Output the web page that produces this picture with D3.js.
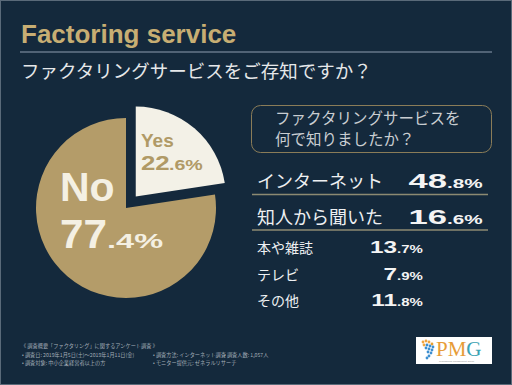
<!DOCTYPE html>
<html>
<head>
<meta charset="utf-8">
<script src="https://cdn.jsdelivr.net/npm/d3@7"></script>
<style>
body { margin: 0; background: #14293c; }
svg { display: block; }
</style>
</head>
<body>
<svg width="512" height="385"></svg>
<script>
// data
var answers = ["Yes", "No"];
var answerShares = [22.6, 77.4];
var sources = ["インターネット", "知人から聞いた", "本や雑誌", "テレビ", "その他"];
var sourceShares = [48.8, 16.6, 13.7, 7.9, 11.8];
var footerCol1 = ["• 調査日: 2019年1月5日(土)～2019年1月11日(金)", "• 調査対象: 中小企業経営者以上の方"];
var footerCol2 = ["• 調査方法: インターネット調査", "• モニター提供元: ゼネラルリサーチ"];
var footerCol3 = ["• 調査人数: 1,057人"];

var jp = "'Noto Sans CJK JP', sans-serif",
	latin = "'Liberation Sans', Arial, sans-serif",
	gold = "#b49c69",
	cream = "#f3f1e7";

var svg = d3.select("svg"),
	width = +svg.attr("width"),
	height = +svg.attr("height");

svg.append("rect")
	.attr("x", 0.5).attr("y", 0.5)
	.attr("width", width - 1).attr("height", height - 1)
	.attr("fill", "#14293c")
	.attr("stroke", "#5a6a79");

// title
svg.append("text")
	.attr("x", 21).attr("y", 43)
	.attr("font-family", latin).attr("font-weight", "bold").attr("font-size", 26)
	.attr("fill", "#c7ae73")
	.text("Factoring service");

svg.append("line")
	.attr("x1", 20).attr("x2", 492).attr("y1", 52).attr("y2", 52)
	.attr("stroke", "#8d9db0").attr("stroke-width", 1.2);

svg.append("text")
	.attr("x", 21).attr("y", 78)
	.attr("font-family", jp).attr("font-size", 18.5)
	.attr("fill", "#e6e8ea")
	.text("ファクタリングサービスをご存知ですか？");

// split 77.4 -> "77", ".4%"
function splitPct(v) {
	var s = v.toFixed(1).split(".");
	return [s[0], "." + s[1] + "%"];
}

// one piece of text, stretched horizontally
function piece(g, x, y, str, size, sx, anchor, color, weight) {
	g.append("text")
		.attr("transform", "translate(" + x + "," + y + ") scale(" + sx + ",1)")
		.attr("text-anchor", anchor || "start")
		.attr("font-family", latin)
		.attr("font-weight", weight || "bold")
		.attr("font-size", size)
		.attr("fill", color)
		.text(str);
}

// pie
var cx = 126, cy = 208, radius = 90;
var pg = svg.append("g").attr("transform", "translate(" + cx + "," + cy + ")");

var pie = d3.pie().sort(null).value(function(d) { return d; });
var arc = d3.arc().innerRadius(0).outerRadius(radius);
var slices = pie(answerShares);

pg.selectAll(".slice")
	.data(slices)
	.enter().append("path")
	.attr("class", "slice")
	.attr("d", arc)
	.attr("fill", function(d, i) { return i == 0 ? cream : gold; })
	.attr("transform", function(d, i) {
		if (i != 0) return null;
		var a = (d.startAngle + d.endAngle) / 2;
		return "translate(" + (Math.sin(a) * 15) + "," + (-Math.cos(a) * 15) + ")";
	});

// No label
var noParts = splitPct(answerShares[1]);
piece(pg, -66, -7, answers[1], 41, 1, "start", "#f4f0e3");
piece(pg, -66, 40, noParts[0], 41, 1.03, "start", "#f4f0e3");
piece(pg, -19, 40, noParts[1], 21, 1.55, "start", "#f4f0e3");

// Yes label
var yesParts = splitPct(answerShares[0]);
piece(pg, 15, -61, answers[0], 19, 1, "start", "#b09a66");
piece(pg, 15, -38, yesParts[0], 21, 1.23, "start", "#b09a66");
piece(pg, 43, -38, yesParts[1], 14, 1.4, "start", "#b09a66");

// right panel
svg.append("rect")
	.attr("x", 251.5).attr("y", 105.5)
	.attr("width", 240).attr("height", 47)
	.attr("rx", 9)
	.attr("fill", "none")
	.attr("stroke", "#8a7c58");

svg.append("text")
	.attr("font-family", jp).attr("font-size", 15.5).attr("fill", "#c9cdd1")
	.selectAll("tspan")
	.data(["ファクタリングサービスを", "何で知りましたか？"])
	.enter().append("tspan")
	.attr("x", 275)
	.attr("y", function(d, i) { return 124 + i * 21; })
	.text(function(d) { return d; });

function rowY(i) { return i < 2 ? 188 + i * 35.5 : 253 + (i - 2) * 26.5; }

var rows = svg.append("g");
sources.forEach(function(name, i) {
	var big = i < 2,
		y = rowY(i),
		parts = splitPct(sourceShares[i]);
	rows.append("text")
		.attr("x", 257).attr("y", y)
		.attr("font-family", jp)
		.attr("font-size", big ? 18 : 14)
		.attr("fill", "#eef0f2")
		.text(name);
	if (big) {
		piece(rows, 447, y, parts[0], 21, 1.65, "end", "#f4f4f4");
		piece(rows, 447, y, parts[1], 12, 1.72, "start", "#f4f4f4");
		rows.append("line")
			.attr("x1", 252).attr("x2", 488)
			.attr("y1", y + 6.5).attr("y2", y + 6.5)
			.attr("stroke", "#8c8a72").attr("stroke-width", 1.3);
	} else {
		piece(rows, 397, y, parts[0], 17, 1.43, "end", "#f4f4f4");
		piece(rows, 397, y, parts[1], 10, 1.5, "start", "#f4f4f4");
	}
});

// footer
var foot = svg.append("g")
	.attr("font-family", jp).attr("font-size", 5.2).attr("fill", "#a3adb7");
foot.append("text").attr("x", 21).attr("y", 347.5)
	.text("《 調査概要「ファクタリング」に関するアンケート調査 》");
[[footerCol1, 22], [footerCol2, 153], [footerCol3, 224]].forEach(function(c) {
	c[0].forEach(function(t, i) {
		foot.append("text").attr("x", c[1]).attr("y", 356.5 + i * 8.7).text(t);
	});
});

// logo
var logo = svg.append("g").attr("transform", "translate(416,337)");
logo.append("rect").attr("width", 76).attr("height", 27).attr("fill", "#ffffff");
var dots = [[7,5,"#f0a540"],[10,4,"#f0a540"],[13,5,"#f0a540"],[16,7,"#e8a030"],
	[8,8,"#f0a540"],[11,8,"#3d8fd0"],[14,9,"#3d8fd0"],[17,10,"#3d8fd0"],
	[10,11,"#3d8fd0"],[13,12,"#3d8fd0"],[16,13,"#3d8fd0"],[12,15,"#3d8fd0"],
	[15,16,"#3d8fd0"],[13,19,"#3d8fd0"],[11,21,"#3d8fd0"]];
logo.selectAll("circle").data(dots).enter().append("circle")
	.attr("cx", function(d) { return d[0]; })
	.attr("cy", function(d) { return d[1]; })
	.attr("r", 1.4)
	.attr("fill", function(d) { return d[2]; });
var pmg = logo.append("text").attr("x", 20).attr("y", 19)
	.attr("font-family", "'Liberation Serif', serif").attr("font-size", 21);
pmg.append("tspan").attr("fill", "#e79c38").text("PM");
pmg.append("tspan").attr("fill", "#3aa2b3").text("G");
logo.append("text").attr("x", 23).attr("y", 25.3)
	.attr("font-family", latin).attr("font-size", 2.4).attr("fill", "#888")
	.text("Professional Management Group");
</script>
</body>
</html>
